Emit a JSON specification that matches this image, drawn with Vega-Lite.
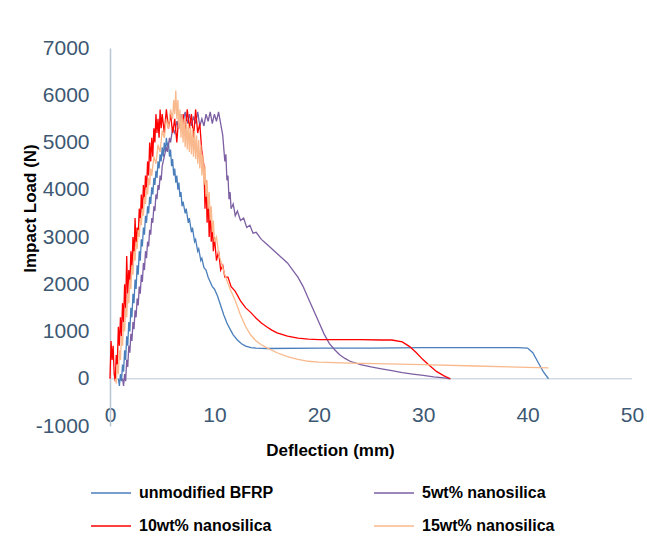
{
  "$schema": "https://vega.github.io/schema/vega-lite/v6.json",
  "width": 522,
  "height": 378,
  "autosize": {"type": "none"},
  "padding": {"left": 110, "top": 48, "right": 15, "bottom": 113},
  "background": "white",
  "config": {"view": {"stroke": null}, "font": "Liberation Sans"},
  "datasets": {
    "blue": [
      {"x":0.8,"y":0},{"x":0.9,"y":-150},{"x":1.0,"y":100},{"x":1.1,"y":-50},{"x":1.2,"y":300},{"x":1.3,"y":150},{"x":1.4,"y":600},{"x":1.5,"y":400},{"x":1.6,"y":900},{"x":1.7,"y":700},{"x":1.8,"y":1200},{"x":1.9,"y":1000},{"x":2.0,"y":1500},{"x":2.1,"y":1300},{"x":2.2,"y":1800},{"x":2.3,"y":1600},{"x":2.4,"y":2100},{"x":2.5,"y":1900},{"x":2.6,"y":2400},{"x":2.7,"y":2200},{"x":2.8,"y":2700},{"x":2.9,"y":2500},{"x":3.0,"y":2950},{"x":3.1,"y":2800},{"x":3.2,"y":3200},{"x":3.3,"y":3050},{"x":3.4,"y":3450},{"x":3.5,"y":3300},{"x":3.6,"y":3650},{"x":3.7,"y":3500},{"x":3.8,"y":3850},{"x":3.9,"y":3700},{"x":4.0,"y":4050},{"x":4.1,"y":3900},{"x":4.2,"y":4250},{"x":4.3,"y":4100},{"x":4.4,"y":4400},{"x":4.5,"y":4250},{"x":4.6,"y":4600},{"x":4.7,"y":4450},{"x":4.8,"y":4750},{"x":4.9,"y":4600},{"x":5.0,"y":4900},{"x":5.1,"y":4700},{"x":5.2,"y":5000},{"x":5.3,"y":4800},{"x":5.4,"y":5100},{"x":5.5,"y":4900},{"x":5.6,"y":5000},{"x":5.7,"y":4700},{"x":5.8,"y":4850},{"x":5.9,"y":4500},{"x":6.0,"y":4650},{"x":6.1,"y":4300},{"x":6.2,"y":4450},{"x":6.3,"y":4150},{"x":6.4,"y":4300},{"x":6.5,"y":4000},{"x":6.6,"y":4150},{"x":6.7,"y":3850},{"x":6.8,"y":3950},{"x":6.9,"y":3650},{"x":7.0,"y":3750},{"x":7.2,"y":3500},{"x":7.3,"y":3600},{"x":7.5,"y":3300},{"x":7.6,"y":3400},{"x":7.8,"y":3100},{"x":7.9,"y":3200},{"x":8.1,"y":2900},{"x":8.2,"y":2950},{"x":8.4,"y":2700},{"x":8.5,"y":2750},{"x":8.7,"y":2500},{"x":8.8,"y":2550},{"x":9.0,"y":2350},{"x":9.2,"y":2300},{"x":9.4,"y":2150},{"x":9.6,"y":2050},{"x":9.8,"y":1950},{"x":10.0,"y":1900},{"x":10.3,"y":1750},{"x":10.6,"y":1550},{"x":10.9,"y":1350},{"x":11.2,"y":1180},{"x":11.5,"y":1050},{"x":11.8,"y":930},{"x":12.2,"y":820},{"x":12.6,"y":740},{"x":13.0,"y":690},{"x":13.5,"y":660},{"x":14,"y":650},{"x":15,"y":640},{"x":20,"y":650},{"x":25,"y":650},{"x":30,"y":660},{"x":35,"y":660},{"x":39,"y":660},{"x":40,"y":650},{"x":40.5,"y":550},{"x":41,"y":350},{"x":41.5,"y":150},{"x":42,"y":0}
    ],
    "purple": [
      {"x":1.2,"y":0},{"x":1.3,"y":-150},{"x":1.4,"y":100},{"x":1.5,"y":-50},{"x":1.6,"y":400},{"x":1.7,"y":250},{"x":1.8,"y":700},{"x":1.9,"y":550},{"x":2.0,"y":950},{"x":2.1,"y":800},{"x":2.2,"y":1200},{"x":2.3,"y":1050},{"x":2.4,"y":1450},{"x":2.5,"y":1300},{"x":2.6,"y":1700},{"x":2.7,"y":1550},{"x":2.8,"y":1950},{"x":2.9,"y":1800},{"x":3.0,"y":2200},{"x":3.1,"y":2050},{"x":3.2,"y":2450},{"x":3.3,"y":2300},{"x":3.4,"y":2700},{"x":3.5,"y":2550},{"x":3.6,"y":2900},{"x":3.7,"y":2800},{"x":3.8,"y":3150},{"x":3.9,"y":3050},{"x":4.0,"y":3400},{"x":4.1,"y":3300},{"x":4.2,"y":3650},{"x":4.3,"y":3550},{"x":4.4,"y":3900},{"x":4.5,"y":3800},{"x":4.6,"y":4100},{"x":4.7,"y":4000},{"x":4.8,"y":4300},{"x":4.9,"y":4200},{"x":5.0,"y":4500},{"x":5.2,"y":4700},{"x":5.4,"y":4900},{"x":5.5,"y":4800},{"x":5.7,"y":5100},{"x":5.8,"y":5000},{"x":6.0,"y":5300},{"x":6.2,"y":5200},{"x":6.4,"y":5450},{"x":6.6,"y":5300},{"x":6.8,"y":5600},{"x":7.0,"y":5450},{"x":7.2,"y":5650},{"x":7.4,"y":5400},{"x":7.6,"y":5600},{"x":7.8,"y":5350},{"x":8.0,"y":5550},{"x":8.2,"y":5400},{"x":8.4,"y":5650},{"x":8.6,"y":5350},{"x":8.8,"y":5500},{"x":9.0,"y":5350},{"x":9.2,"y":5600},{"x":9.4,"y":5450},{"x":9.6,"y":5650},{"x":9.8,"y":5400},{"x":10.0,"y":5600},{"x":10.2,"y":5450},{"x":10.4,"y":5650},{"x":10.6,"y":5400},{"x":10.8,"y":5150},{"x":11.0,"y":4600},{"x":11.1,"y":4750},{"x":11.2,"y":4200},{"x":11.3,"y":4300},{"x":11.4,"y":3800},{"x":11.5,"y":3950},{"x":11.6,"y":3600},{"x":11.8,"y":3700},{"x":12.0,"y":3450},{"x":12.2,"y":3550},{"x":12.5,"y":3350},{"x":12.8,"y":3400},{"x":13.1,"y":3200},{"x":13.4,"y":3250},{"x":13.7,"y":3080},{"x":14.0,"y":3100},{"x":14.5,"y":2950},{"x":15.0,"y":2850},{"x":15.5,"y":2750},{"x":16.0,"y":2650},{"x":16.5,"y":2550},{"x":17.0,"y":2450},{"x":17.5,"y":2300},{"x":18.0,"y":2150},{"x":18.5,"y":1950},{"x":19.0,"y":1700},{"x":19.5,"y":1450},{"x":20.0,"y":1200},{"x":20.5,"y":950},{"x":21.0,"y":750},{"x":21.5,"y":620},{"x":22.0,"y":510},{"x":22.5,"y":430},{"x":23,"y":370},{"x":24,"y":300},{"x":25,"y":250},{"x":26,"y":210},{"x":27,"y":170},{"x":28,"y":130},{"x":29,"y":100},{"x":30,"y":70},{"x":31,"y":40},{"x":32,"y":20},{"x":32.6,"y":0}
    ],
    "red": [
      {"x":0.0,"y":0},{"x":0.1,"y":800},{"x":0.2,"y":400},{"x":0.3,"y":700},{"x":0.4,"y":100},{"x":0.5,"y":-50},{"x":0.6,"y":500},{"x":0.7,"y":300},{"x":0.8,"y":1100},{"x":0.9,"y":700},{"x":1.0,"y":1300},{"x":1.1,"y":900},{"x":1.2,"y":1600},{"x":1.3,"y":1200},{"x":1.4,"y":2000},{"x":1.5,"y":1500},{"x":1.6,"y":2600},{"x":1.7,"y":1800},{"x":1.8,"y":2300},{"x":1.9,"y":2000},{"x":2.0,"y":2700},{"x":2.1,"y":2300},{"x":2.2,"y":3000},{"x":2.3,"y":2600},{"x":2.4,"y":3400},{"x":2.5,"y":2800},{"x":2.6,"y":3200},{"x":2.7,"y":3000},{"x":2.8,"y":3600},{"x":2.9,"y":3300},{"x":3.0,"y":3900},{"x":3.1,"y":3500},{"x":3.2,"y":4100},{"x":3.3,"y":3800},{"x":3.4,"y":4300},{"x":3.5,"y":4000},{"x":3.6,"y":4600},{"x":3.7,"y":4300},{"x":3.8,"y":5000},{"x":3.9,"y":4600},{"x":4.0,"y":5100},{"x":4.1,"y":4700},{"x":4.2,"y":5300},{"x":4.3,"y":5000},{"x":4.4,"y":5600},{"x":4.5,"y":5200},{"x":4.6,"y":5500},{"x":4.7,"y":5100},{"x":4.8,"y":5700},{"x":4.9,"y":5300},{"x":5.0,"y":5600},{"x":5.2,"y":5200},{"x":5.4,"y":5700},{"x":5.6,"y":5300},{"x":5.8,"y":5600},{"x":6.0,"y":5200},{"x":6.2,"y":5500},{"x":6.4,"y":5000},{"x":6.6,"y":5600},{"x":6.8,"y":5300},{"x":7.0,"y":5600},{"x":7.2,"y":5200},{"x":7.4,"y":5700},{"x":7.6,"y":5300},{"x":7.8,"y":5600},{"x":8.0,"y":5100},{"x":8.2,"y":5700},{"x":8.4,"y":5200},{"x":8.6,"y":5400},{"x":8.8,"y":4800},{"x":9.0,"y":4500},{"x":9.1,"y":3600},{"x":9.2,"y":4200},{"x":9.3,"y":3300},{"x":9.4,"y":3900},{"x":9.5,"y":3000},{"x":9.6,"y":3600},{"x":9.7,"y":2900},{"x":9.8,"y":3300},{"x":9.9,"y":2700},{"x":10.0,"y":3000},{"x":10.2,"y":2500},{"x":10.4,"y":2700},{"x":10.6,"y":2300},{"x":10.8,"y":2400},{"x":11.0,"y":2150},{"x":11.3,"y":2150},{"x":11.6,"y":1950},{"x":12.0,"y":1850},{"x":12.5,"y":1650},{"x":13.0,"y":1500},{"x":13.5,"y":1400},{"x":14,"y":1280},{"x":14.5,"y":1180},{"x":15,"y":1100},{"x":15.5,"y":1030},{"x":16,"y":970},{"x":17,"y":900},{"x":18,"y":860},{"x":19,"y":840},{"x":20,"y":830},{"x":22,"y":830},{"x":24,"y":830},{"x":26,"y":820},{"x":27,"y":820},{"x":28,"y":780},{"x":28.7,"y":680},{"x":29.3,"y":560},{"x":30,"y":400},{"x":30.6,"y":280},{"x":31.3,"y":150},{"x":32,"y":60},{"x":32.6,"y":0}
    ],
    "orange": [
      {"x":0.5,"y":0},{"x":0.6,"y":-100},{"x":0.7,"y":300},{"x":0.8,"y":100},{"x":0.9,"y":600},{"x":1.0,"y":400},{"x":1.1,"y":900},{"x":1.2,"y":700},{"x":1.3,"y":1200},{"x":1.4,"y":1000},{"x":1.5,"y":1500},{"x":1.6,"y":1300},{"x":1.7,"y":1800},{"x":1.8,"y":1600},{"x":1.9,"y":2100},{"x":2.0,"y":1900},{"x":2.1,"y":2400},{"x":2.2,"y":2200},{"x":2.3,"y":2700},{"x":2.4,"y":2500},{"x":2.5,"y":2900},{"x":2.6,"y":2750},{"x":2.7,"y":3150},{"x":2.8,"y":3000},{"x":2.9,"y":3400},{"x":3.0,"y":3250},{"x":3.1,"y":3600},{"x":3.2,"y":3450},{"x":3.3,"y":3850},{"x":3.4,"y":3700},{"x":3.5,"y":4050},{"x":3.6,"y":3900},{"x":3.7,"y":4250},{"x":3.8,"y":4100},{"x":3.9,"y":4450},{"x":4.0,"y":4300},{"x":4.2,"y":4700},{"x":4.4,"y":4550},{"x":4.6,"y":4950},{"x":4.8,"y":4800},{"x":5.0,"y":5250},{"x":5.2,"y":5100},{"x":5.4,"y":5500},{"x":5.6,"y":5300},{"x":5.8,"y":5700},{"x":6.0,"y":5500},{"x":6.1,"y":5900},{"x":6.2,"y":5600},{"x":6.3,"y":6100},{"x":6.4,"y":5500},{"x":6.5,"y":5900},{"x":6.6,"y":5300},{"x":6.7,"y":5700},{"x":6.8,"y":5100},{"x":6.9,"y":5600},{"x":7.0,"y":5000},{"x":7.1,"y":5500},{"x":7.2,"y":4900},{"x":7.3,"y":5450},{"x":7.4,"y":4850},{"x":7.5,"y":5400},{"x":7.6,"y":4800},{"x":7.7,"y":5350},{"x":7.8,"y":4750},{"x":7.9,"y":5300},{"x":8.0,"y":4700},{"x":8.1,"y":5250},{"x":8.2,"y":4650},{"x":8.3,"y":5150},{"x":8.4,"y":4550},{"x":8.5,"y":5050},{"x":8.6,"y":4450},{"x":8.7,"y":4950},{"x":8.8,"y":4300},{"x":8.9,"y":4750},{"x":9.0,"y":4100},{"x":9.1,"y":4500},{"x":9.2,"y":3850},{"x":9.3,"y":4200},{"x":9.4,"y":3600},{"x":9.5,"y":3950},{"x":9.6,"y":3350},{"x":9.7,"y":3650},{"x":9.8,"y":3100},{"x":9.9,"y":3350},{"x":10.0,"y":2900},{"x":10.2,"y":3000},{"x":10.4,"y":2650},{"x":10.6,"y":2500},{"x":10.8,"y":2350},{"x":11,"y":2200},{"x":11.5,"y":1900},{"x":12,"y":1650},{"x":12.5,"y":1350},{"x":13,"y":1100},{"x":13.5,"y":920},{"x":14,"y":800},{"x":14.5,"y":720},{"x":15,"y":660},{"x":16,"y":550},{"x":17,"y":470},{"x":18,"y":410},{"x":19,"y":370},{"x":20,"y":350},{"x":23,"y":330},{"x":30,"y":300},{"x":35,"y":270},{"x":40,"y":240},{"x":42,"y":230}
    ],
    "zero": [{"x":0,"x2":50,"y":0}]
  },
  "encoding": {
    "x": {
      "field": "x", "type": "quantitative",
      "scale": {"domain": [0, 50], "nice": false, "zero": false},
      "axis": {
        "values": [0, 10, 20, 30, 40, 50], "format": "d",
        "domain": false, "ticks": false, "grid": false,
        "labelFontSize": 21, "labelColor": "#3d5873", "labelPadding": -11, "labelBaseline": "middle",
        "labelFlush": false,
        "title": "Deflection (mm)", "titleFontSize": 17, "titleFontWeight": "bold", "titleColor": "#000000",
        "titleX": 220, "titleY": 24, "titleAlign": "center", "titleBaseline": "middle"
      }
    },
    "y": {
      "field": "y", "type": "quantitative",
      "scale": {"domain": [-1000, 7000], "nice": false, "zero": false},
      "axis": {
        "values": [-1000, 0, 1000, 2000, 3000, 4000, 5000, 6000, 7000],
        "labelExpr": "datum.value < 0 ? '-' + abs(datum.value) : '' + datum.value",
        "domain": true, "domainColor": "#b7c6d4", "domainWidth": 1.5,
        "ticks": false, "grid": false,
        "labelFontSize": 21, "labelColor": "#3d5873", "labelPadding": 21,
        "labelFlush": false,
        "title": "Impact Load (N)", "titleFontSize": 17, "titleFontWeight": "bold", "titleColor": "#000000",
        "titleAngle": -90, "titleX": -80, "titleY": 160, "titleAlign": "center", "titleBaseline": "middle"
      }
    }
  },
  "layer": [
    {
      "data": {"name": "zero"},
      "mark": {"type": "rule", "color": "#d3dbe3", "strokeWidth": 1.5},
      "encoding": {"x2": {"field": "x2"}}
    },
    {
      "data": {"name": "blue"},
      "mark": {"type": "line", "strokeWidth": 1.3},
      "encoding": {"color": {"datum": "unmodified BFRP"}}
    },
    {
      "data": {"name": "purple"},
      "mark": {"type": "line", "strokeWidth": 1.3},
      "encoding": {"color": {"datum": "5wt% nanosilica"}}
    },
    {
      "data": {"name": "red"},
      "mark": {"type": "line", "strokeWidth": 1.3},
      "encoding": {"color": {"datum": "10wt% nanosilica"}}
    },
    {
      "data": {"name": "orange"},
      "mark": {"type": "line", "strokeWidth": 1.3},
      "encoding": {
        "color": {
          "datum": "15wt% nanosilica",
          "scale": {
            "domain": ["unmodified BFRP", "5wt% nanosilica", "10wt% nanosilica", "15wt% nanosilica"],
            "range": ["#4a7ebb", "#7d5fa3", "#ff0000", "#f9b98c"]
          },
          "legend": {
            "title": null, "orient": "none", "legendX": -20, "legendY": 424,
            "direction": "horizontal",
            "columns": 2, "columnPadding": 97, "rowPadding": 4,
            "symbolType": "stroke", "symbolSize": 1600, "symbolStrokeWidth": 1.3,
            "labelFontSize": 16, "labelFontWeight": "bold", "labelColor": "#000000", "labelOffset": 7,
            "labelLimit": 300
          }
        }
      }
    }
  ]
}
